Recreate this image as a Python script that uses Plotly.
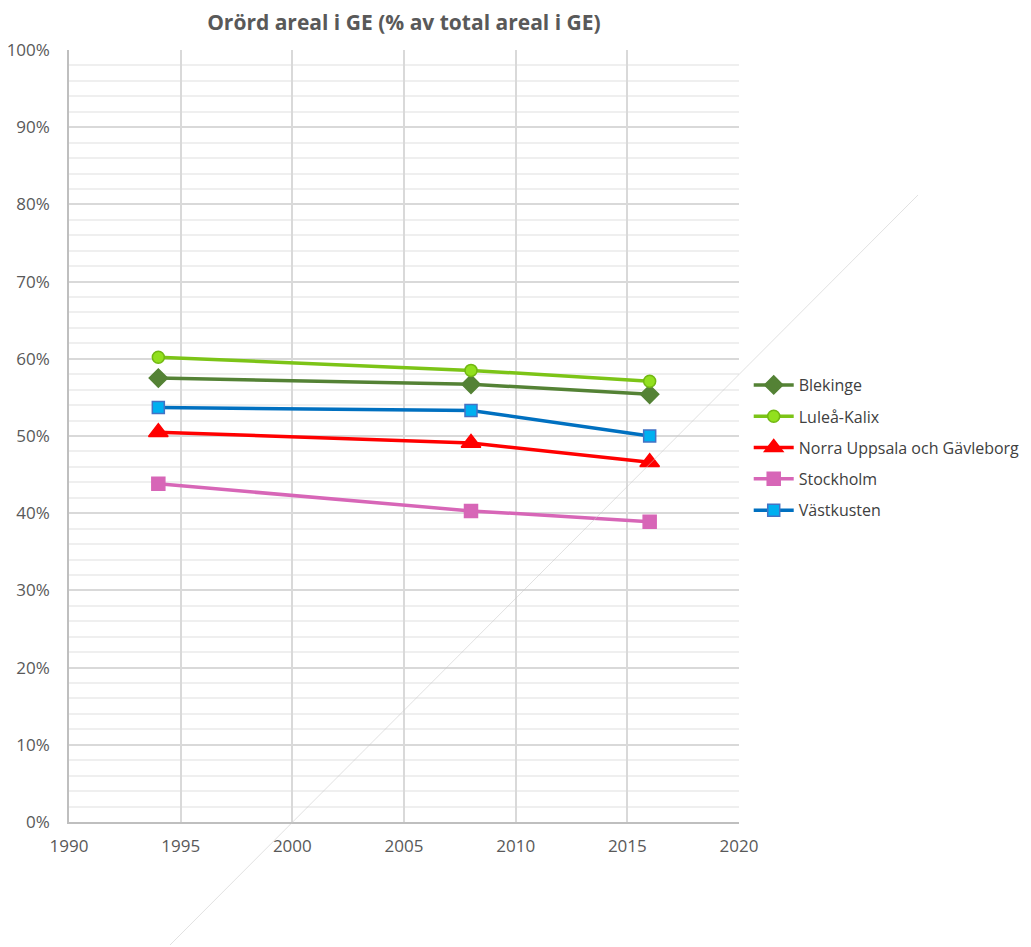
import plotly.graph_objects as go

years = [1994, 2008, 2016]
series_names = ["Blekinge", "Luleå-Kalix", "Norra Uppsala och Gävleborg", "Stockholm", "Västkusten"]
blekinge = [0.575, 0.567, 0.554]
lulea_kalix = [0.602, 0.585, 0.571]
norra_uppsala = [0.505, 0.491, 0.466]
stockholm = [0.438, 0.403, 0.389]
vastkusten = [0.537, 0.533, 0.500]
x_ticks = [1990, 1995, 2000, 2005, 2010, 2015, 2020]

values = [blekinge, lulea_kalix, norra_uppsala, stockholm, vastkusten]
styles = [
    dict(line="#548235", fill="#548235", edge="#548235", symbol="diamond", size=14),
    dict(line="#7cc417", fill="#92e01e", edge="#72b812", symbol="circle", size=12),
    dict(line="#ff0000", fill="#ff0000", edge="#ff0000", symbol="triangle-up", size=17),
    dict(line="#d766b7", fill="#d766b7", edge="#d766b7", symbol="square", size=13),
    dict(line="#0070c0", fill="#00b0f0", edge="#4472c4", symbol="square", size=12),
]

fig = go.Figure()
for i, (name, vals, st) in enumerate(zip(series_names, values, styles)):
    fig.add_trace(go.Scatter(
        x=years, y=vals, name=name, mode="lines+markers", legendgroup=f"g{i}",
        line=dict(color=st["line"], width=3.5),
        marker=dict(symbol=st["symbol"], size=st["size"], color=st["fill"],
                    line=dict(color=st["edge"], width=1.5)),
    ))

FONT = "Open Sans, Lato, sans-serif"
fig.update_layout(
    width=1031, height=947,
    margin=dict(l=61, r=300, t=42, b=133, autoexpand=False),
    paper_bgcolor="white", plot_bgcolor="white",
    font=dict(family=FONT, size=16, color="#595959"),
    title=dict(text="<b>Orörd areal i GE (% av total areal i GE)</b>",
               x=0.384, xanchor="center", y=0.985, yanchor="middle",
               font=dict(family=FONT, size=21, color="#595959")),
    legend=dict(x=1.0145, xanchor="left", y=0.588, yanchor="top",
                font=dict(family=FONT, size=16, color="#404040"), itemwidth=40,
                tracegroupgap=7.5, bgcolor="rgba(0,0,0,0)"),
    showlegend=True,
)
fig.update_xaxes(
    range=[1990, 2020], tickvals=x_ticks, ticktext=[str(v) for v in x_ticks],
    showgrid=True, gridcolor="#d9d9d9", gridwidth=1.5,
    showline=True, linecolor="#bfbfbf", linewidth=1.5,
    ticks="", ticklabelstandoff=8, zeroline=False, automargin=False,
    tickfont=dict(family=FONT, size=17, color="#595959"),
)
fig.update_yaxes(
    range=[0, 1], dtick=0.1, tickformat=".0%",
    showgrid=True, gridcolor="#d9d9d9", gridwidth=1.5,
    minor=dict(dtick=0.02, showgrid=True, gridcolor="#efefef", gridwidth=1.5),
    showline=True, linecolor="#bfbfbf", linewidth=1.5,
    ticks="", ticklabelstandoff=14, zeroline=False, automargin=False,
    tickfont=dict(family=FONT, size=17, color="#595959"),
)

# faint diagonal scan artefact
fig.add_shape(type="line", xref="paper", yref="paper",
              x0=(170 - 69) / 670, y0=(822 - 945) / 772,
              x1=(918 - 69) / 670, y1=(822 - 195) / 772,
              line=dict(color="rgba(200,200,200,0.55)", width=1))

fig.write_html("out.html")
